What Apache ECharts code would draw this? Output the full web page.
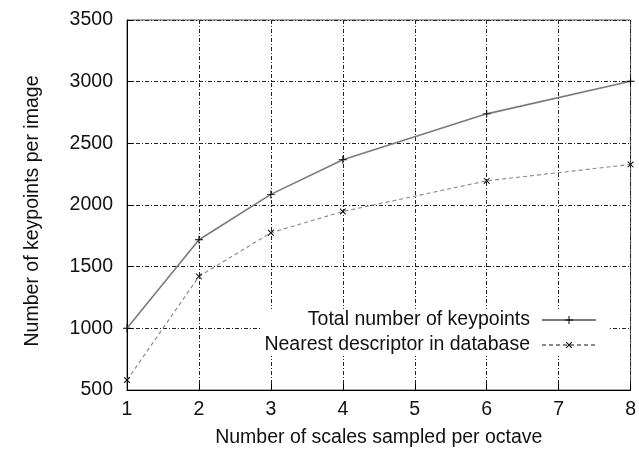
<!DOCTYPE html>
<html>
<head>
<meta charset="utf-8">
<script src="https://cdn.jsdelivr.net/npm/echarts@6/dist/echarts.min.js"></script>
<style>
  html, body { margin: 0; padding: 0; background: #fff; }
  #chart { width: 639px; height: 453px; }
</style>
</head>
<body>
<div id="chart"></div>
<script>
// Scales sampled per octave (x positions where measurements were taken)
const scales = [1, 2, 3, 4, 6, 8];
// Keypoints per image
const totalKeypoints = [1000, 1718, 2086, 2367, 2739, 3004];
const nearestDescriptor = [580, 1421, 1775, 1947, 2196, 2329];

const seriesNames = ['Total number of keypoints', 'Nearest descriptor in database'];
const xTitle = 'Number of scales sampled per octave';
const yTitle = 'Number of keypoints per image';

const FONT = 'Liberation Sans, Arial, sans-serif';
const FS = 19.5;

// Thin "+" marker; rotated 45 degrees it becomes an "x"
const PLUS = 'path://M0,4.4H10V5.6H0Z M4.4,0H5.6V10H4.4Z';

const pairs = (xs, ys) => xs.map((x, i) => [x, ys[i]]);

const gridLine = { color: '#222', width: 1, type: [4, 2, 1, 2] };

const chart = echarts.init(document.getElementById('chart'), null, { renderer: 'canvas' });
chart.setOption({
  animation: false,
  backgroundColor: '#fff',
  textStyle: { fontFamily: FONT },
  grid: {
    left: 127, right: 8, top: 20, bottom: 60,
    show: true, borderColor: '#555', borderWidth: 1, backgroundColor: 'transparent'
  },
  xAxis: {
    type: 'value', min: 1, max: 8, interval: 1,
    name: xTitle, nameLocation: 'middle', nameGap: 38,
    nameTextStyle: { fontSize: FS, color: '#111', fontFamily: FONT },
    axisLine: { show: true, lineStyle: { color: '#000', width: 1 } },
    axisTick: { show: true, inside: true, length: 6, lineStyle: { color: '#000' } },
    axisLabel: { fontSize: FS, color: '#111', margin: 10, fontFamily: FONT, formatter: v => String(v) },
    splitLine: { show: true, lineStyle: gridLine }
  },
  yAxis: {
    type: 'value', min: 500, max: 3500, interval: 500,
    name: yTitle, nameLocation: 'middle', nameGap: 84, nameRotate: 90,
    nameTextStyle: { fontSize: FS, color: '#111', fontFamily: FONT, padding: [0, 0, 0, -12] },
    axisLine: { show: true, lineStyle: { color: '#000', width: 1 } },
    axisTick: { show: true, inside: true, length: 6, lineStyle: { color: '#000' } },
    axisLabel: { fontSize: FS, color: '#111', margin: 14, fontFamily: FONT, formatter: v => String(v) },
    splitLine: { show: true, lineStyle: gridLine }
  },
  legend: {
    orient: 'vertical',
    right: 31, top: 309,
    align: 'right',
    padding: [1, 11, 1, 4],
    backgroundColor: '#fff',
    itemWidth: 54, itemHeight: 10, itemGap: 5,
    textStyle: { fontSize: FS, color: '#111', fontFamily: FONT, lineHeight: 20, padding: [0, 7, 0, 0] },
    data: seriesNames
  },
  series: [
    {
      name: seriesNames[0], type: 'line',
      data: pairs(scales, totalKeypoints),
      symbol: PLUS, symbolSize: 8, showSymbol: true,
      itemStyle: { color: '#000' },
      lineStyle: { color: '#7a7a7a', width: 1.6, type: 'solid' },
      z: 3
    },
    {
      name: seriesNames[1], type: 'line',
      data: pairs(scales, nearestDescriptor),
      symbol: PLUS, symbolSize: 8, symbolRotate: 45, showSymbol: true,
      itemStyle: { color: '#000' },
      lineStyle: { color: '#888', width: 1.1, type: [4, 3] },
      z: 3
    }
  ]
});
</script>
</body>
</html>
